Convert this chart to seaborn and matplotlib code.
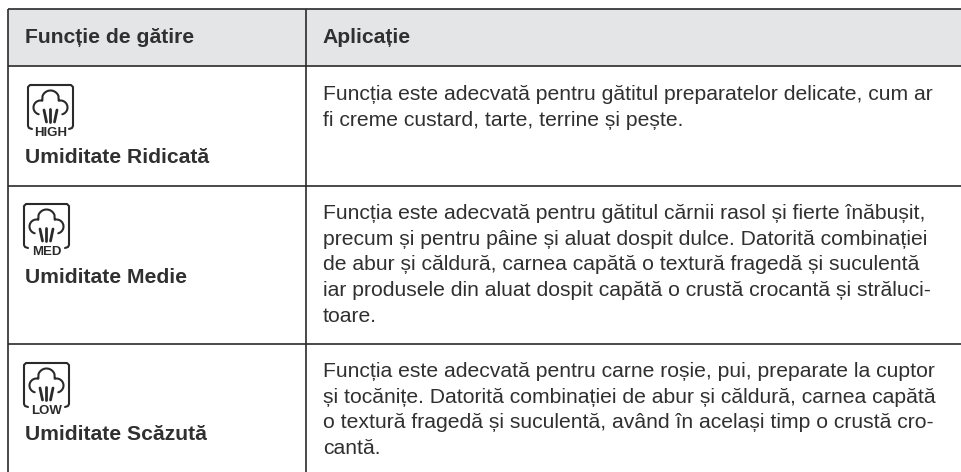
import numpy as np
import seaborn as sns
import matplotlib.pyplot as plt

headers = ["Funcție de gătire", "Aplicație"]
names = ["Umiditate Ridicată", "Umiditate Medie", "Umiditate Scăzută"]
badges = ["HIGH", "MED", "LOW"]
texts = [
    ["Funcția este adecvată pentru gătitul preparatelor delicate, cum ar",
     "fi creme custard, tarte, terrine și pește."],
    ["Funcția este adecvată pentru gătitul cărnii rasol și fierte înăbușit,",
     "precum și pentru pâine și aluat dospit dulce. Datorită combinației",
     "de abur și căldură, carnea capătă o textură fragedă și suculentă",
     "iar produsele din aluat dospit capătă o crustă crocantă și străluci-",
     "toare."],
    ["Funcția este adecvată pentru carne roșie, pui, preparate la cuptor",
     "și tocănițe. Datorită combinației de abur și căldură, carnea capătă",
     "o textură fragedă și suculentă, având în același timp o crustă cro-",
     "cantă."],
]

W, H = 962, 472
INK = "#2a2a2a"
TEXT = "#303030"
GREY = "#e4e5e7"
row_lines = [9, 66, 186, 344]
col_lines = [8, 306]
icon_pos = [(28, 85), (24, 204), (24, 363)]
name_y = [163, 283, 440]
text_y = [100, 219, 377]
LINE_STEP = 25.7
TEXT_X = 323


def px(x, y):  # pixel -> figure fraction
    return x / W, 1 - y / H


def arc(cx, cy, r, a0, a1):
    a = np.radians(np.linspace(a0, a1, 30))
    return cx + r * np.cos(a), cy - r * np.sin(a)


def draw_icon(ax, x0, y0, badge):
    # rama cu colturi rotunjite, deschisa jos
    bx = np.array([4, 1, 0, 0, 2, 43, 45, 45, 44, 41])
    by = np.array([44, 43, 41, 2, 0, 0, 2, 41, 43, 44])
    ax.plot(x0 + bx, y0 + by, color=INK, lw=1.5, solid_joinstyle="round")
    # norul
    xs, ys = [], []
    for cx, cy, r, a0, a1 in [(12.5, 22.5, 7, 255, 75), (22.5, 14, 8.5, 160, 20), (32.5, 22.5, 7, 105, -75)]:
        ax_x, ax_y = arc(cx, cy, r, a0, a1)
        xs.append(ax_x)
        ys.append(ax_y)
    ax.plot(x0 + np.concatenate(xs), y0 + np.concatenate(ys), color=INK, lw=1.5)
    # aburul
    for sx0, sy0, sx1, sy1 in [(16, 25, 18.5, 37), (22.5, 24, 22.5, 37), (29, 25, 26.5, 37)]:
        ax.plot([x0 + sx0, x0 + sx1], [y0 + sy0, y0 + sy1], color=INK, lw=2)
    ax.text(x0 + 22.5, y0 + 51, badge, ha="center", va="baseline", fontsize=9.5,
            fontweight="bold", color=INK)


sns.set_theme(style="white")
plt.rcParams["font.family"] = ["Liberation Sans", "DejaVu Sans"]

fig = plt.figure(figsize=(W / 100, H / 100), dpi=100, facecolor="white")

# banda de antet
hx, hy = px(col_lines[0], row_lines[1])
ax_head = fig.add_axes([hx, hy, 1 - hx, (row_lines[1] - row_lines[0]) / H])
sns.heatmap(np.zeros((1, 2)), cmap=[GREY], cbar=False, ax=ax_head, xticklabels=False, yticklabels=False)

ax = fig.add_axes([0, 0, 1, 1], facecolor="none")
ax.set_xlim(0, W)
ax.set_ylim(H, 0)
ax.axis("off")

ax.hlines(row_lines, col_lines[0], W, color=INK, lw=1.2)
ax.vlines(col_lines, row_lines[0], H, color=INK, lw=1.2)

ax.text(25, 43, headers[0], fontsize=15.2, fontweight="bold", color=TEXT, va="baseline")
ax.text(TEXT_X - 1, 43, headers[1], fontsize=15.2, fontweight="bold", color=TEXT, va="baseline")

for i in range(3):
    draw_icon(ax, icon_pos[i][0], icon_pos[i][1], badges[i])
    ax.text(25, name_y[i], names[i], fontsize=15.2, fontweight="bold", color=TEXT, va="baseline")
    for j, line in enumerate(texts[i]):
        ax.text(TEXT_X, text_y[i] + j * LINE_STEP, line, fontsize=15.25, color=TEXT, va="baseline")

fig.savefig("out.png", dpi=100)
